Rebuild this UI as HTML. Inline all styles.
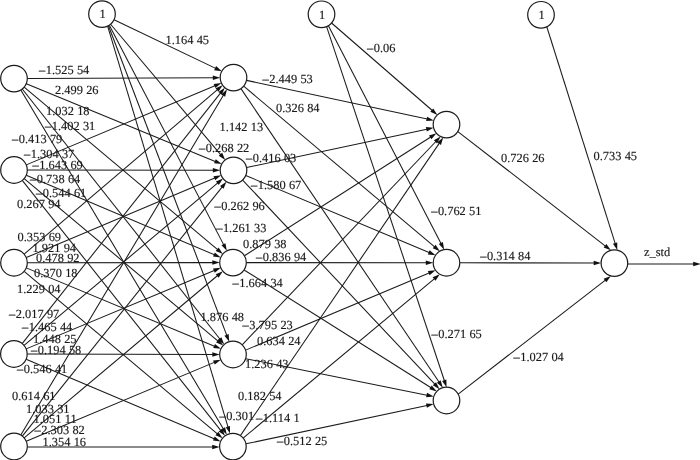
<!DOCTYPE html>
<html><head><meta charset="utf-8"><title>Neural network</title>
<style>
html,body{margin:0;padding:0;background:#fff;}
body{width:700px;height:460px;overflow:hidden;}
svg{display:block;will-change:transform;}
.e line{stroke:#1a1a1a;stroke-width:1.05;}
.e polygon{fill:#111;stroke:none;}
.n circle{fill:#fff;stroke:#1a1a1a;stroke-width:1.2;}
.t .m{stroke-width:0.3px;}
.t text{font-family:"Liberation Serif",serif;font-size:12.4px;fill:#1a1a1a;stroke:#1a1a1a;stroke-width:0.15px;white-space:pre;text-rendering:geometricPrecision;word-spacing:0.2px;}
</style></head><body>
<svg width="700" height="460" viewBox="0 0 700 460">
<rect width="700" height="460" fill="#fff"/>
<g class="e">
<line x1="27.30" y1="78.54" x2="215.76" y2="77.68"/>
<polygon points="220.20,77.66 212.81,79.95 212.79,75.45"/>
<line x1="26.30" y1="83.66" x2="217.66" y2="162.39"/>
<polygon points="221.77,164.08 214.07,163.35 215.78,159.19"/>
<line x1="24.18" y1="87.16" x2="219.42" y2="251.19"/>
<polygon points="222.82,254.04 215.70,251.01 218.60,247.56"/>
<line x1="22.25" y1="89.03" x2="221.46" y2="341.04"/>
<polygon points="224.21,344.52 217.86,340.11 221.39,337.32"/>
<line x1="20.82" y1="90.02" x2="224.62" y2="430.92"/>
<polygon points="226.90,434.73 221.17,429.53 225.04,427.22"/>
<line x1="26.27" y1="164.86" x2="217.29" y2="84.81"/>
<polygon points="221.39,83.09 215.43,88.03 213.69,83.88"/>
<line x1="27.30" y1="170.02" x2="215.76" y2="170.32" stroke-width="1.15"/>
<polygon points="220.20,170.33 212.80,172.57 212.80,168.07"/>
<line x1="26.25" y1="175.18" x2="216.66" y2="255.69"/>
<polygon points="220.75,257.42 213.06,256.61 214.81,252.47"/>
<line x1="24.19" y1="178.55" x2="219.83" y2="342.62"/>
<polygon points="223.23,345.47 216.12,342.44 219.01,338.99"/>
<line x1="22.27" y1="180.42" x2="222.28" y2="432.40"/>
<polygon points="225.04,435.87 218.67,431.48 222.20,428.68"/>
<line x1="24.13" y1="254.13" x2="219.23" y2="88.12"/>
<polygon points="222.62,85.24 218.44,91.75 215.52,88.33"/>
<line x1="26.25" y1="257.58" x2="217.08" y2="177.07"/>
<polygon points="221.17,175.34 215.23,180.29 213.48,176.14"/>
<line x1="27.30" y1="262.74" x2="215.26" y2="262.61"/>
<polygon points="219.70,262.61 212.30,264.86 212.30,260.36"/>
<line x1="26.28" y1="267.86" x2="216.85" y2="347.16"/>
<polygon points="220.95,348.86 213.26,348.10 214.99,343.94"/>
<line x1="24.18" y1="271.31" x2="219.16" y2="435.38"/>
<polygon points="222.56,438.24 215.45,435.19 218.35,431.75"/>
<line x1="22.15" y1="343.57" x2="222.01" y2="91.11"/>
<polygon points="224.76,87.63 221.93,94.83 218.41,92.03"/>
<line x1="24.09" y1="345.45" x2="219.63" y2="181.40"/>
<polygon points="223.03,178.55 218.80,185.03 215.91,181.58"/>
<line x1="26.17" y1="348.88" x2="216.63" y2="269.43"/>
<polygon points="220.73,267.72 214.76,272.65 213.03,268.49"/>
<line x1="27.20" y1="354.03" x2="215.26" y2="354.46"/>
<polygon points="219.70,354.47 212.29,356.70 212.31,352.20"/>
<line x1="26.15" y1="359.18" x2="216.56" y2="439.69"/>
<polygon points="220.65,441.42 212.96,440.61 214.71,436.47"/>
<line x1="20.81" y1="435.08" x2="224.71" y2="93.01"/>
<polygon points="226.99,89.20 225.13,96.70 221.27,94.40"/>
<line x1="22.32" y1="436.13" x2="223.67" y2="185.09"/>
<polygon points="226.45,181.63 223.58,188.81 220.07,185.99"/>
<line x1="24.19" y1="437.95" x2="219.41" y2="274.01"/>
<polygon points="222.81,271.15 218.59,277.63 215.70,274.19"/>
<line x1="26.26" y1="441.35" x2="216.64" y2="361.37"/>
<polygon points="220.74,359.65 214.79,364.59 213.04,360.44"/>
<line x1="27.29" y1="447.00" x2="215.17" y2="447.00" stroke-width="1.2"/>
<polygon points="219.61,447.00 212.21,449.25 212.21,444.75"/>
<line x1="114.00" y1="19.83" x2="217.78" y2="69.38"/>
<polygon points="221.79,71.29 214.14,70.14 216.08,66.07"/>
<line x1="110.58" y1="24.26" x2="222.35" y2="156.56"/>
<polygon points="225.21,159.95 218.72,155.75 222.16,152.84"/>
<line x1="109.30" y1="25.22" x2="224.80" y2="246.87"/>
<polygon points="226.85,250.81 221.44,245.28 225.43,243.20"/>
<line x1="108.45" y1="25.73" x2="227.64" y2="337.60"/>
<polygon points="229.23,341.75 224.48,335.64 228.69,334.03"/>
<line x1="107.62" y1="26.15" x2="228.72" y2="429.37"/>
<polygon points="230.00,433.62 225.72,427.18 230.03,425.89"/>
<line x1="246.51" y1="80.38" x2="429.54" y2="119.48"/>
<polygon points="433.88,120.41 426.17,121.06 427.11,116.66"/>
<line x1="243.68" y1="86.16" x2="436.43" y2="248.39"/>
<polygon points="439.83,251.24 432.72,248.20 435.62,244.76"/>
<line x1="240.94" y1="88.62" x2="440.38" y2="384.03"/>
<polygon points="442.86,387.71 436.86,382.83 440.59,380.31"/>
<line x1="246.51" y1="167.58" x2="429.24" y2="128.70"/>
<polygon points="433.58,127.77 426.81,131.51 425.88,127.11"/>
<line x1="245.76" y1="175.50" x2="431.45" y2="253.49"/>
<polygon points="435.54,255.21 427.85,254.42 429.59,250.27"/>
<line x1="242.62" y1="180.03" x2="436.49" y2="385.94"/>
<polygon points="439.53,389.17 432.82,385.33 436.10,382.24"/>
<line x1="244.43" y1="255.81" x2="432.71" y2="135.70"/>
<polygon points="436.45,133.31 431.42,139.19 429.00,135.39"/>
<line x1="246.30" y1="262.61" x2="428.76" y2="262.73"/>
<polygon points="433.20,262.74 425.80,264.98 425.80,260.48"/>
<line x1="244.07" y1="269.97" x2="433.06" y2="389.01"/>
<polygon points="436.82,391.38 429.36,389.34 431.76,385.53"/>
<line x1="242.17" y1="344.87" x2="437.57" y2="139.75"/>
<polygon points="440.63,136.53 437.16,143.44 433.90,140.34"/>
<line x1="245.56" y1="350.12" x2="431.45" y2="272.01"/>
<polygon points="435.55,270.29 429.60,275.23 427.85,271.09"/>
<line x1="245.64" y1="358.64" x2="429.45" y2="395.66"/>
<polygon points="433.81,396.53 426.11,397.28 426.99,392.87"/>
<line x1="240.38" y1="435.60" x2="440.73" y2="141.16"/>
<polygon points="443.23,137.49 440.93,144.88 437.21,142.34"/>
<line x1="243.12" y1="438.09" x2="436.34" y2="277.05"/>
<polygon points="439.75,274.21 435.51,280.68 432.62,277.22"/>
<line x1="245.91" y1="443.84" x2="429.34" y2="404.98"/>
<polygon points="433.69,404.06 426.91,407.80 425.98,403.39"/>
<line x1="331.54" y1="23.02" x2="434.02" y2="112.02"/>
<polygon points="437.37,114.93 430.30,111.78 433.26,108.38"/>
<line x1="328.39" y1="25.68" x2="442.18" y2="245.70"/>
<polygon points="444.22,249.65 438.82,244.11 442.82,242.04"/>
<line x1="326.59" y1="26.59" x2="445.17" y2="382.99"/>
<polygon points="446.57,387.20 442.10,380.89 446.37,379.47"/>
<line x1="457.85" y1="131.54" x2="607.36" y2="247.55"/>
<polygon points="610.87,250.28 603.65,247.52 606.41,243.96"/>
<line x1="459.80" y1="262.78" x2="596.66" y2="263.06"/>
<polygon points="601.10,263.07 593.70,265.31 593.70,260.81"/>
<line x1="458.19" y1="394.16" x2="607.34" y2="278.64"/>
<polygon points="610.85,275.92 606.38,282.23 603.62,278.67"/>
<line x1="546.78" y1="26.78" x2="615.96" y2="245.89"/>
<polygon points="617.30,250.12 612.93,243.74 617.22,242.39"/>
<line x1="627.70" y1="264.00" x2="696.16" y2="264.00" stroke-width="1.25"/>
<polygon points="700.60,264.00 693.20,266.25 693.20,261.75"/>
</g>
<g class="n">
<circle cx="14" cy="78.6" r="13.3"/>
<circle cx="14" cy="170" r="13.3"/>
<circle cx="14" cy="262.75" r="13.3"/>
<circle cx="13.9" cy="354.0" r="13.3"/>
<circle cx="14" cy="446.5" r="13.3"/>
<circle cx="233.5" cy="77.6" r="13.3"/>
<circle cx="233.5" cy="170.35" r="13.3"/>
<circle cx="233.0" cy="262.6" r="13.3"/>
<circle cx="233.0" cy="354.5" r="13.3"/>
<circle cx="232.9" cy="446.6" r="13.3"/>
<circle cx="446.5" cy="124.6" r="13.3"/>
<circle cx="446.5" cy="262.75" r="13.3"/>
<circle cx="446.5" cy="400.5" r="13.3"/>
<circle cx="614.4" cy="263.1" r="13.3"/>
<circle cx="102.0" cy="14.1" r="13.3"/>
<circle cx="321.5" cy="14.3" r="13.3"/>
<circle cx="541" cy="14.8" r="13.3"/>
</g>
<g class="t">
<text x="39" y="74"><tspan class="m">–</tspan><tspan dx="0.5">1.525 54</tspan></text>
<text x="55" y="94">2.499 26</text>
<text x="46" y="115">1.032 18</text>
<text x="165.5" y="44">1.164 45</text>
<text x="45" y="130"><tspan class="m">–</tspan><tspan dx="0.5">1.402 31</tspan></text>
<text x="12" y="143"><tspan class="m">–</tspan><tspan dx="0.5">0.413 79</tspan></text>
<text x="24" y="158"><tspan class="m">–</tspan><tspan dx="0.5">1.304 37</tspan></text>
<text x="32.5" y="169"><tspan class="m">–</tspan><tspan dx="0.5">1.643 69</tspan></text>
<text x="30" y="183"><tspan class="m">–</tspan><tspan dx="0.5">0.738 64</tspan></text>
<text x="36" y="197"><tspan class="m">–</tspan><tspan dx="0.5">0.544 61</tspan></text>
<text x="17" y="208">0.267 94</text>
<text x="17.5" y="241">0.353 69</text>
<text x="32.5" y="252">1.921 94</text>
<text x="36" y="262">0.478 92</text>
<text x="34" y="277">0.370 18</text>
<text x="17" y="293">1.229 04</text>
<text x="9" y="318"><tspan class="m">–</tspan><tspan dx="0.5">2.017 97</tspan></text>
<text x="22" y="331"><tspan class="m">–</tspan><tspan dx="0.5">1.465 44</tspan></text>
<text x="33" y="343">1.448 25</text>
<text x="31" y="354"><tspan class="m">–</tspan><tspan dx="0.5">0.194 58</tspan></text>
<text x="17" y="373"><tspan class="m">–</tspan><tspan dx="0.5">0.546 41</tspan></text>
<text x="12" y="400">0.614 61</text>
<text x="26" y="413">1.033 31</text>
<text x="33.5" y="423">1.051 11</text>
<text x="34.5" y="434"><tspan class="m">–</tspan><tspan dx="0.5">2.303 82</tspan></text>
<text x="42.5" y="446">1.354 16</text>
<text x="262.5" y="83"><tspan class="m">–</tspan><tspan dx="0.5">2.449 53</tspan></text>
<text x="276" y="112">0.326 84</text>
<text x="219.6" y="131">1.142 13</text>
<text x="199" y="152"><tspan class="m">–</tspan><tspan dx="0.5">0.268 22</tspan></text>
<text x="246" y="162"><tspan class="m">–</tspan><tspan dx="0.5">0.416 03</tspan></text>
<text x="251" y="189"><tspan class="m">–</tspan><tspan dx="0.5">1.580 67</tspan></text>
<text x="214.5" y="210"><tspan class="m">–</tspan><tspan dx="0.5">0.262 96</tspan></text>
<text x="216.2" y="232"><tspan class="m">–</tspan><tspan dx="0.5">1.261 33</tspan></text>
<text x="243" y="248">0.879 38</text>
<text x="256" y="261"><tspan class="m">–</tspan><tspan dx="0.5">0.836 94</tspan></text>
<text x="232.5" y="287"><tspan class="m">–</tspan><tspan dx="0.5">1.664 34</tspan></text>
<text x="200.5" y="321">1.876 48</text>
<text x="242.5" y="329"><tspan class="m">–</tspan><tspan dx="0.5">3.795 23</tspan></text>
<text x="257" y="345">0.634 24</text>
<text x="245" y="368">1.236 43</text>
<text x="238" y="400">0.182 54</text>
<text x="219.5" y="420"><tspan class="m">–</tspan><tspan dx="0.5">0.301</tspan></text>
<text x="256" y="422"><tspan class="m">–</tspan><tspan dx="0.5">1.114 1</tspan></text>
<text x="277" y="445"><tspan class="m">–</tspan><tspan dx="0.5">0.512 25</tspan></text>
<text x="367" y="52"><tspan class="m">–</tspan><tspan dx="0.5">0.06</tspan></text>
<text x="501" y="162">0.726 26</text>
<text x="593.5" y="160">0.733 45</text>
<text x="431.2" y="215"><tspan class="m">–</tspan><tspan dx="0.5">0.762 51</tspan></text>
<text x="480.2" y="260"><tspan class="m">–</tspan><tspan dx="0.5">0.314 84</tspan></text>
<text x="431.5" y="338"><tspan class="m">–</tspan><tspan dx="0.5">0.271 65</tspan></text>
<text x="513.5" y="361"><tspan class="m">–</tspan><tspan dx="0.5">1.027 04</tspan></text>
<text x="644" y="256">z_std</text>
<text x="102.5" y="18" text-anchor="middle">1</text>
<text x="322.0" y="19" text-anchor="middle">1</text>
<text x="541.5" y="19" text-anchor="middle">1</text>
</g>
</svg>
</body></html>
